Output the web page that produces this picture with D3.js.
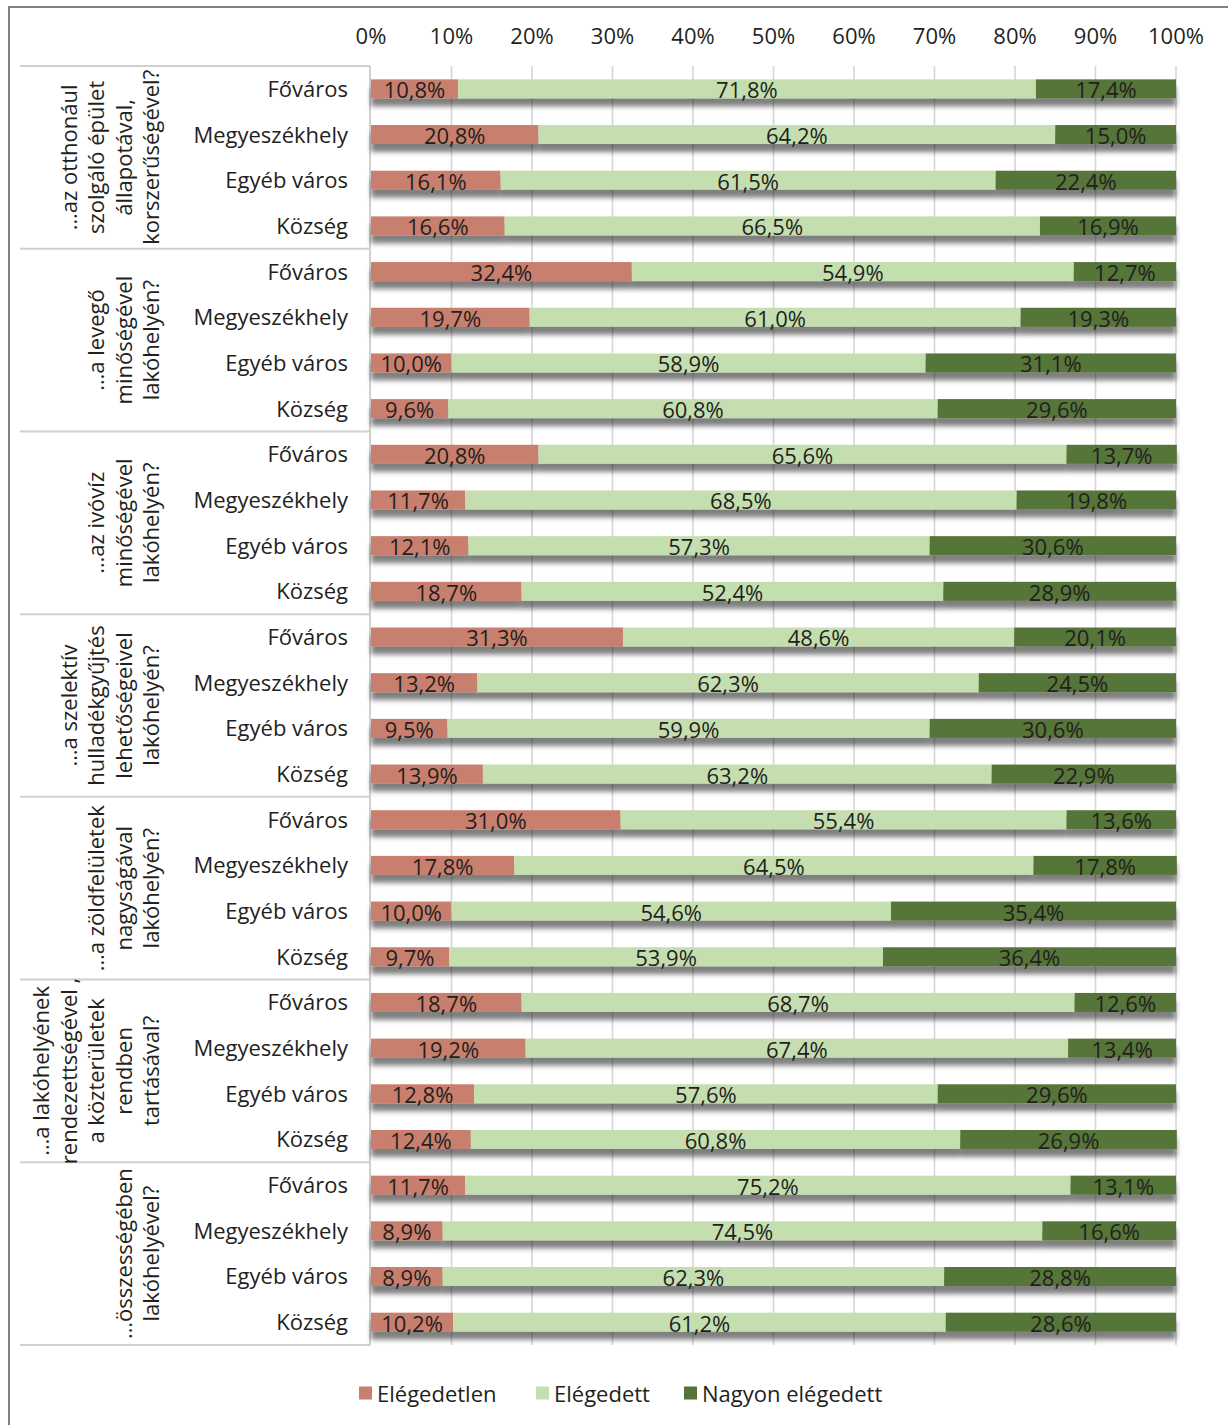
<!DOCTYPE html>
<html><head><meta charset="utf-8">
<script src="https://cdn.jsdelivr.net/npm/d3@7/dist/d3.min.js"></script>
<style>
body{margin:0;background:#fff;}
text{font-family:"Open Sans",sans-serif;fill:#231f20;}
</style></head>
<body><svg id="chart" width="1228" height="1425"></svg>
<script>
const groups = [
  ["…az otthonául","szolgáló épület","állapotával,","korszerűségével?"],
  ["…a levegő","minőségével","lakóhelyén?"],
  ["…az ivóvíz","minőségével","lakóhelyén?"],
  ["…a szelektív","hulladékgyűjtés","lehetőségeivel","lakóhelyén?"],
  ["…a zöldfelületek","nagyságával","lakóhelyén?"],
  ["…a lakóhelyének","rendezettségével ,","a közterületek","rendben","tartásával?"],
  ["…összességében","lakóhelyével?"]
];
const categories = ["Főváros","Megyeszékhely","Egyéb város","Község"];
const seriesNames = ["Elégedetlen","Elégedett","Nagyon elégedett"];
const elegedetlen = [10.8,20.8,16.1,16.6, 32.4,19.7,10.0,9.6, 20.8,11.7,12.1,18.7, 31.3,13.2,9.5,13.9, 31.0,17.8,10.0,9.7, 18.7,19.2,12.8,12.4, 11.7,8.9,8.9,10.2];
const elegedett   = [71.8,64.2,61.5,66.5, 54.9,61.0,58.9,60.8, 65.6,68.5,57.3,52.4, 48.6,62.3,59.9,63.2, 55.4,64.5,54.6,53.9, 68.7,67.4,57.6,60.8, 75.2,74.5,62.3,61.2];
const nagyon      = [17.4,15.0,22.4,16.9, 12.7,19.3,31.1,29.6, 13.7,19.8,30.6,28.9, 20.1,24.5,30.6,22.9, 13.6,17.8,35.4,36.4, 12.6,13.4,29.6,26.9, 13.1,16.6,28.8,28.6];
const ticks = [0,10,20,30,40,50,60,70,80,90,100];
const colors = ["#c97f6d","#c5deaf","#577438"];

const rows = [];
groups.forEach((g,gi)=>categories.forEach((c,ci)=>{
  const i = gi*categories.length+ci;
  rows.push({id:i, group:gi, cat:c, "Elégedetlen":elegedetlen[i], "Elégedett":elegedett[i], "Nagyon elégedett":nagyon[i]});
}));

const svg = d3.select("#chart");
const FS = 22;
const x0 = 371, x1 = 1176, yTop = 66, yBot = 1345;
const x = d3.scaleLinear().domain([0,100]).range([x0,x1]);
const y = d3.scaleBand().domain(rows.map(r=>r.id)).range([yTop,yBot]).paddingInner(0.585).paddingOuter(0.2925);
const gy = d3.scaleBand().domain(d3.range(groups.length)).range([yTop,yBot]);
const loc = d3.formatLocale({decimal:",",thousands:" ",grouping:[3],currency:["","Ft"]});
const fmt = loc.format(".1f");

const defs = svg.append("defs");
const f = defs.append("filter").attr("id","sh").attr("x","-5%").attr("y","-50%").attr("width","110%").attr("height","250%");
f.append("feDropShadow").attr("dx",0).attr("dy",8).attr("stdDeviation",2.6).attr("flood-color","#000").attr("flood-opacity",0.5);

// frame
svg.append("line").attr("x1",9).attr("x2",9).attr("y1",6).attr("y2",1425).attr("stroke","#808080").attr("stroke-width",2);
svg.append("line").attr("x1",8).attr("x2",1228).attr("y1",7).attr("y2",7).attr("stroke","#808080").attr("stroke-width",2);

// gridlines
svg.append("g").selectAll("line").data(ticks.filter(t=>t>0)).join("line")
  .attr("x1",d=>x(d)).attr("x2",d=>x(d)).attr("y1",yTop).attr("y2",yBot)
  .attr("stroke","#d6d6d6").attr("stroke-width",1.6);

// axis tick labels
svg.append("g").selectAll("text").data(ticks).join("text")
  .attr("x",d=>x(d)).attr("y",44).attr("text-anchor","middle").attr("font-size",FS)
  .text(d=>d+"%");

// table lines
svg.append("line").attr("x1",370).attr("x2",370).attr("y1",yTop).attr("y2",yBot).attr("stroke","#d0d0d0").attr("stroke-width",2);
svg.append("g").selectAll("line").data(d3.range(groups.length+1)).join("line")
  .attr("x1",20).attr("x2",370)
  .attr("y1",d=>d<groups.length?gy(d):yBot).attr("y2",d=>d<groups.length?gy(d):yBot)
  .attr("stroke","#d0d0d0").attr("stroke-width",2);

// bars
const stack = d3.stack().keys(seriesNames)(rows);
const rowG = svg.append("g").selectAll("g").data(rows).join("g").attr("filter","url(#sh)");
rowG.selectAll("rect").data(r=>stack.map((s,si)=>({si, d:s[r.id]}))).join("rect")
  .attr("x",d=>x(d.d[0])).attr("width",d=>x(d.d[1])-x(d.d[0]))
  .attr("y",function(){return y(d3.select(this.parentNode).datum().id);})
  .attr("height",y.bandwidth()).attr("fill",d=>colors[d.si]);

// data labels
const lab = svg.append("g");
stack.forEach((s,si)=>{
  lab.selectAll(null).data(s).join("text")
    .attr("x",d=>(x(d[0])+x(d[1]))/2).attr("y",(d,i)=>y(rows[i].id)+y.bandwidth()/2+0.5)
    .attr("text-anchor","middle").attr("dominant-baseline","central").attr("font-size",FS)
    .text((d,i)=>fmt(d.data[seriesNames[si]])+"%");
});

// category labels
svg.append("g").selectAll("text").data(rows).join("text")
  .attr("x",348).attr("y",d=>y(d.id)+y.bandwidth()/2-1)
  .attr("text-anchor","end").attr("dominant-baseline","central").attr("font-size",FS)
  .text(d=>d.cat);

// group labels
groups.forEach((lines,gi)=>{
  const cy = gy(gi)+gy.bandwidth()/2;
  const n = lines.length;
  lines.forEach((t,li)=>{
    const lx = 150-(n-1-li)*27.5;
    svg.append("text").attr("transform",`translate(${lx},${cy}) rotate(-90)`)
      .attr("text-anchor","middle").attr("dominant-baseline","central").attr("font-size",FS).text(t);
  });
});

// legend
const legX = [359,536,684];
const lg = svg.append("g").selectAll("g").data(seriesNames).join("g")
  .attr("transform",(d,i)=>`translate(${legX[i]},1393)`);
lg.append("rect").attr("x",0).attr("y",-6.5).attr("width",13).attr("height",13).attr("fill",(d,i)=>colors[i]);
lg.append("text").attr("x",18).attr("y",0).attr("dominant-baseline","central").attr("font-size",FS).text(d=>d);
</script></body></html>
